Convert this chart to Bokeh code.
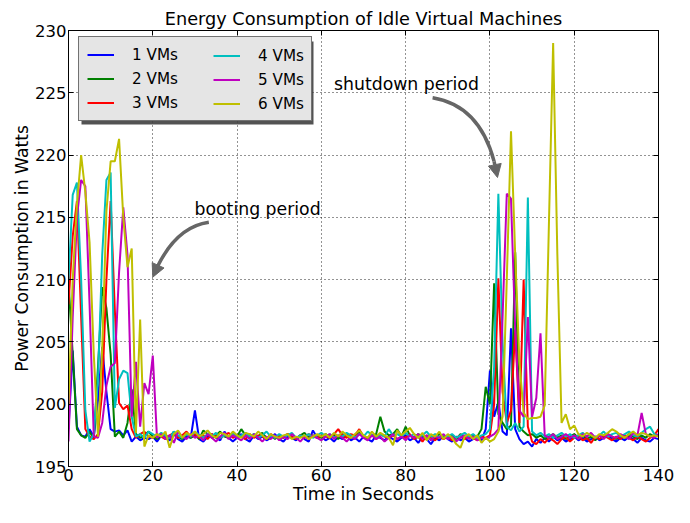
from bokeh.plotting import figure
from bokeh.models import (Range1d, FixedTicker, LinearAxis, Legend, LegendItem,
                          Arrow, NormalHead, Label, BoxAnnotation)
from bokeh.embed import file_html
from bokeh.resources import INLINE

# ---------------- data ----------------
time_s = list(range(0, 141))

vm1 = [
    198.0, 204.3, 198.2, 197.5, 197.4, 198.0, 197.4, 200.3, 204.6, 201.0,
    198.0, 197.8, 197.9, 197.5, 197.9, 197.0, 197.4, 197.1, 197.3, 197.2,
    197.4, 197.0, 197.5, 197.3, 197.1, 197.6, 197.2, 197.0, 197.4, 197.3,
    199.5, 197.2, 197.0, 197.4, 197.6, 197.3, 197.1, 197.8, 197.3, 197.0,
    197.3, 197.6, 197.2, 197.0, 197.5, 197.2, 197.4, 197.1, 197.3, 197.6,
    197.2, 197.0, 197.4, 197.3, 197.1, 197.5, 197.2, 197.0, 197.9, 197.3,
    197.4, 197.1, 197.3, 197.0, 197.4, 197.2, 197.6, 197.1, 197.3, 197.0,
    197.4, 197.2, 197.0, 197.5, 197.3, 197.1, 197.4, 197.2, 197.0, 197.3,
    197.5, 197.1, 197.3, 196.9, 197.4, 197.2, 196.8, 197.3, 197.1, 197.5,
    197.2, 197.0, 197.4, 197.1, 197.3, 197.0, 197.2, 197.4, 197.1, 198.0,
    202.7, 199.0, 200.2, 197.8, 197.5, 206.1, 198.0, 197.2, 196.8, 197.0,
    196.6, 197.2, 196.9, 197.3, 197.0, 197.4, 197.1, 197.3, 197.0, 197.2,
    197.4, 197.1, 197.3, 197.0, 197.2, 197.4, 197.1, 197.3, 197.5, 197.2,
    197.0, 197.3, 197.1, 197.4, 197.2, 196.9, 197.3, 197.1, 197.0, 197.3,
    197.2]

vm2 = [
    209.8, 204.0, 198.0, 197.5, 197.3, 197.8, 197.2, 203.0, 209.4, 207.7,
    204.0, 197.4, 197.8, 197.3, 198.5, 201.2, 197.6, 197.3, 197.5, 197.8,
    197.4, 197.2, 197.6, 197.5, 197.3, 197.8, 197.4, 197.2, 197.6, 197.3,
    197.5, 197.2, 197.9, 197.6, 197.3, 197.5, 197.8, 197.4, 197.3, 197.6,
    197.4, 198.0, 197.5, 197.3, 197.6, 197.4, 197.7, 197.3, 197.5, 197.2,
    197.5, 197.3, 197.6, 197.4, 197.2, 197.5, 197.7, 197.3, 197.5, 197.4,
    197.3, 197.6, 197.4, 197.5, 197.2, 197.6, 197.4, 197.3, 197.5, 197.7,
    197.4, 197.2, 197.5, 197.6, 199.0, 197.8, 197.5, 197.6, 198.0, 197.4,
    198.2, 197.5, 197.3, 197.6, 197.4, 197.2, 197.5, 197.3, 197.6, 197.4,
    197.3, 197.5, 197.2, 197.6, 197.4, 197.3, 197.5, 197.4, 198.0, 201.4,
    200.0, 209.7, 199.2, 198.5, 198.0, 198.3, 212.2, 198.2, 197.8, 197.5,
    197.6, 197.3, 197.5, 197.2, 197.4, 197.6, 197.3, 197.5, 197.2, 197.4,
    197.6, 197.3, 197.5, 197.2, 197.4, 197.1, 197.5, 197.3, 197.6, 197.4,
    197.2, 197.5, 197.3, 197.6, 197.4, 197.2, 197.5, 197.3, 197.6, 197.4,
    197.5]

vm3 = [
    208.0, 213.5, 216.3, 207.0, 198.0, 197.4, 197.2, 197.6, 201.0, 210.0,
    216.3, 207.5, 200.1, 199.6, 199.9, 198.0, 197.3, 197.6, 197.8, 197.4,
    197.3, 197.6, 197.4, 197.2, 197.5, 197.7, 197.3, 197.5, 197.8, 197.4,
    197.6, 197.3, 197.5, 197.2, 197.6, 197.4, 197.3, 197.5, 197.7, 197.3,
    197.5, 197.4, 197.2, 197.6, 197.3, 197.5, 197.4, 197.2, 197.6, 197.3,
    197.5, 197.3, 197.6, 197.4, 197.2, 197.5, 197.3, 197.6, 197.4, 197.3,
    197.5, 197.4, 197.3, 197.6, 198.0, 197.5, 197.3, 197.6, 197.5, 198.0,
    197.4, 197.3, 197.5, 197.2, 197.6, 197.4, 197.3, 197.5, 197.2, 197.4,
    197.3, 197.6, 197.2, 197.4, 197.0, 197.5, 197.3, 197.1, 197.4, 197.2,
    197.4, 197.1, 197.3, 197.5, 197.2, 197.4, 197.3, 197.1, 197.4, 197.3,
    197.5, 200.0, 210.1, 201.0, 198.5, 199.5, 206.0, 198.5, 210.0, 198.2,
    197.0, 196.8, 197.2, 196.9, 197.3, 197.1, 196.8, 197.2, 197.4, 197.0,
    197.3, 197.5, 197.1, 197.3, 196.9, 197.4, 197.2, 197.5, 197.3, 197.1,
    197.4, 197.2, 197.5, 197.3, 197.1, 197.4, 197.2, 197.0, 197.3, 197.5,
    198.0]

vm4 = [
    210.0, 216.8, 217.8, 210.0, 199.5, 197.0, 197.6, 202.0, 212.0, 218.0,
    218.6, 199.7, 202.0, 202.7, 202.5, 199.0, 197.4, 197.6, 197.3, 197.8,
    197.6, 197.4, 197.7, 197.5, 197.3, 197.8, 197.5, 197.3, 197.6, 197.4,
    197.8, 197.5, 197.3, 197.6, 197.4, 197.7, 197.3, 197.5, 197.4, 197.6,
    197.3, 197.5, 197.7, 197.4, 197.6, 197.3, 197.5, 197.8, 197.4, 197.3,
    197.6, 197.4, 197.5, 197.7, 197.3, 197.5, 197.4, 197.6, 197.3, 197.5,
    197.7, 197.4, 197.6, 197.3, 197.5, 197.4, 197.7, 197.5, 197.3, 197.6,
    197.4, 197.8, 197.5, 197.3, 197.6, 197.4, 198.0, 197.5, 197.6, 197.4,
    197.7, 197.4, 197.6, 197.3, 197.5, 197.8, 197.4, 197.6, 197.3, 197.5,
    197.4, 197.6, 197.3, 197.5, 197.7, 197.4, 197.6, 197.3, 197.5, 197.6,
    198.0, 203.0, 216.9, 205.0, 198.2, 197.9, 198.5, 197.8, 198.2, 216.6,
    197.8, 197.5, 197.7, 197.4, 197.6, 197.3, 197.5, 197.7, 197.4, 197.6,
    197.3, 197.5, 197.7, 197.4, 197.6, 197.3, 197.5, 197.8, 197.4, 197.6,
    197.7, 197.4, 197.6, 197.8, 197.5, 197.4, 197.7, 198.0, 198.2, 197.6,
    197.5]

vm5 = [
    197.0, 207.0, 215.0, 218.0, 217.5, 208.0, 197.4, 197.3, 198.5, 201.5,
    203.0, 203.3, 210.6, 215.8, 212.0, 199.0, 203.4, 198.2, 201.7, 200.8,
    203.9, 197.3, 197.6, 197.2, 197.5, 196.9, 197.8, 197.4, 197.2, 197.6,
    197.3, 197.5, 197.1, 197.6, 197.3, 197.0, 197.4, 197.7, 197.2, 197.5,
    197.3, 197.1, 197.5, 197.2, 197.6, 197.3, 197.0, 197.4, 197.2, 197.5,
    197.1, 197.4, 197.2, 197.6, 197.3, 197.0, 197.4, 197.2, 197.5, 197.3,
    197.1, 197.4, 197.6, 197.2, 197.5, 197.3, 197.0, 197.4, 197.2, 197.6,
    197.3, 197.1, 197.5, 197.2, 197.4, 197.0, 197.3, 197.6, 197.2, 197.4,
    197.1, 197.5, 197.3, 197.6, 197.2, 197.5, 197.1, 197.4, 197.3, 197.6,
    197.2, 197.4, 197.0, 197.3, 197.5, 197.2, 197.4, 197.1, 197.3, 197.2,
    197.4, 197.6, 198.0, 207.0, 216.9, 216.5, 206.0, 199.5, 199.0, 207.0,
    199.0, 200.5, 205.7, 197.5, 197.3, 197.6, 197.2, 197.4, 197.6, 197.3,
    197.5, 197.2, 197.6, 197.4, 197.7, 197.3, 197.5, 197.2, 197.6, 197.4,
    197.3, 197.6, 197.4, 197.2, 197.7, 197.5, 199.3, 197.6, 197.4, 197.3,
    197.6]

vm6 = [
    200.0, 210.0, 216.0, 220.0, 217.0, 213.0, 204.0, 197.4, 204.5, 215.5,
    219.5, 219.5, 221.3, 215.0, 211.0, 212.5, 197.7, 206.8, 196.6, 197.5,
    197.3, 197.6, 197.4, 197.8, 196.5, 197.6, 197.9, 197.3, 197.7, 197.5,
    197.8, 197.4, 197.6, 197.9, 197.5, 197.3, 197.7, 197.6, 197.4, 197.8,
    197.5, 197.3, 197.7, 197.6, 197.4, 197.8, 197.5, 197.2, 197.6, 197.4,
    197.3, 197.5, 197.6, 197.2, 197.4, 197.3, 197.5, 197.2, 197.4, 197.6,
    197.4, 197.6, 197.3, 197.7, 197.4, 197.8, 197.5, 197.3, 197.6, 197.9,
    197.5, 197.3, 197.8, 197.4, 197.7, 197.5, 197.3, 196.7, 197.9, 197.5,
    197.8, 198.1, 197.6, 197.3, 197.7, 197.1, 197.6, 197.4, 197.8, 197.2,
    197.6, 197.3, 196.8, 196.5, 197.4, 197.6, 197.2, 197.5, 196.9, 197.3,
    197.0, 197.2, 197.8, 199.0, 210.0, 221.9, 212.0, 203.4, 199.3, 198.8,
    198.9, 198.9, 199.0, 199.9, 214.5, 229.0, 212.0, 198.5, 199.2, 198.0,
    198.3, 197.6, 197.4, 197.7, 197.5, 197.3, 197.6, 197.5, 197.7, 198.0,
    197.8, 197.5, 197.3, 197.6, 197.8, 197.5, 197.7, 197.6, 197.4, 197.5,
    197.4]

series = [vm1, vm2, vm3, vm4, vm5, vm6]
labels = ["1 VMs", "2 VMs", "3 VMs", "4 VMs", "5 VMs", "6 VMs"]
colors = ["#0000ff", "#008000", "#ff0000", "#00bfbf", "#bf00bf", "#bfbf00"]

x_ticks = [0, 20, 40, 60, 80, 100, 120, 140]
y_ticks = [195, 200, 205, 210, 215, 220, 225, 230]

title_text = "Energy Consumption of Idle Virtual Machines"
x_label = "Time in Seconds"
y_label = "Power Consumption in Watts"

# annotations: text (x, y) and arrow (tail, control, tip) in data units
boot_text = ("booting period", 29.9, 215.7)
boot_arrow = ((33.3, 214.6), (24.8, 214.2), (20.0, 210.2))
shut_text = ("shutdown period", 63.0, 225.7)
shut_arrow = ((86.4, 224.6), (99.0, 223.9), (101.8, 218.2))

# ---------------- figure ----------------
FONT = "DejaVu Sans"
W, H = 674, 507
BT, BB, BL, BR = 30, 41, 68, 16
FH = H - BT - BB

p = figure(width=W, height=H, output_backend="svg", toolbar_location=None,
           x_range=Range1d(0, 140), y_range=Range1d(195, 230),
           min_border_left=BL, min_border_right=BR,
           min_border_top=BT, min_border_bottom=BB)
p.background_fill_color = "white"
p.border_fill_color = "white"
p.outline_line_color = "black"
p.outline_line_width = 1

p.title.text = title_text
p.title.align = "center"
p.title.text_font = FONT
p.title.text_font_size = "17.7px"
p.title.text_font_style = "normal"
p.title.text_color = "black"
p.title.standoff = 4

def style_axis(ax, show_labels=True):
    ax.major_tick_in = 5
    ax.major_tick_out = 0
    ax.minor_tick_line_color = None
    ax.axis_line_color = "black"
    ax.major_tick_line_color = "black"
    ax.major_label_text_font = FONT
    if show_labels:
        ax.major_label_text_color = "black"
        ax.major_label_text_font_size = "16.5px"
        ax.major_label_standoff = 2
    else:
        ax.major_label_text_color = None
        ax.major_label_text_font_size = "1px"
        ax.major_label_standoff = 0

xt = FixedTicker(ticks=x_ticks)
yt = FixedTicker(ticks=y_ticks)
p.xaxis.ticker = xt
p.yaxis.ticker = yt
p.xgrid.ticker = xt
p.ygrid.ticker = yt
for ax in p.xaxis + p.yaxis:
    style_axis(ax)
p.xaxis.axis_label = x_label
p.yaxis.axis_label = y_label
for ax in p.xaxis + p.yaxis:
    ax.axis_label_text_font = FONT
    ax.axis_label_text_font_size = "17.2px"
    ax.axis_label_text_font_style = "normal"
    ax.axis_label_text_color = "black"
    ax.axis_label_standoff = 0

top_ax = LinearAxis(ticker=FixedTicker(ticks=x_ticks))
style_axis(top_ax, show_labels=False)
p.add_layout(top_ax, "above")
right_ax = LinearAxis(ticker=FixedTicker(ticks=y_ticks))
style_axis(right_ax, show_labels=False)
p.add_layout(right_ax, "right")

for g in (p.xgrid[0], p.ygrid[0]):
    g.grid_line_color = "black"
    g.grid_line_dash = "1 3"
    g.grid_line_width = 1
    g.grid_line_alpha = 0.85

renderers = []
for s, c in zip(series, colors):
    r = p.line(time_s, s, line_color=c, line_width=2)
    renderers.append(r)

# ---------------- annotations ----------------
ARROW_C = "#666666"
for (txt, tx, ty), (P0, C, P2) in ((boot_text, boot_arrow), (shut_text, shut_arrow)):
    p.add_layout(Label(x=tx, y=ty, text=txt, text_font=FONT, text_font_size="17.3px",
                       text_baseline="middle", text_align="left", text_color="black"))
    t = 0.88
    c1 = ((1 - t) * P0[0] + t * C[0], (1 - t) * P0[1] + t * C[1])
    bt = ((1 - t) ** 2 * P0[0] + 2 * (1 - t) * t * C[0] + t * t * P2[0],
          (1 - t) ** 2 * P0[1] + 2 * (1 - t) * t * C[1] + t * t * P2[1])
    p.quadratic(x0=[P0[0]], y0=[P0[1]], x1=[bt[0]], y1=[bt[1]], cx=[c1[0]], cy=[c1[1]],
                line_color=ARROW_C, line_width=3.5)
    p.add_layout(Arrow(end=NormalHead(size=13, fill_color=ARROW_C, line_color=ARROW_C),
                       x_start=bt[0], y_start=bt[1], x_end=P2[0], y_end=P2[1],
                       line_color=ARROW_C, line_width=3.5))

# ---------------- legend ----------------
LEG_W, LEG_H = 232, 83
leg_x, leg_y = 10, FH - 8 - LEG_H
shadow = BoxAnnotation(left=leg_x + 3, right=leg_x + 3 + LEG_W,
                       bottom=leg_y - 3, top=leg_y - 3 + LEG_H,
                       left_units="screen", right_units="screen",
                       bottom_units="screen", top_units="screen",
                       fill_color="#404040", fill_alpha=0.9, line_color=None)
p.add_layout(shadow)

def make_legend(idx, loc, lw, boxed):
    leg = Legend(items=[LegendItem(label=labels[i], renderers=[renderers[i]]) for i in idx],
                 location=loc, orientation="vertical",
                 padding=8, spacing=5, margin=0,
                 glyph_width=27, glyph_height=19, label_height=19,
                 label_width=lw, label_standoff=18,
                 label_text_font=FONT, label_text_font_size="15.2px",
                 label_text_color="black")
    if boxed:
        leg.background_fill_color = "#e5e5e5"
        leg.background_fill_alpha = 1.0
        leg.border_line_color = "black"
        leg.border_line_width = 1
    else:
        leg.background_fill_alpha = 0.0
        leg.border_line_color = None
    return leg

p.add_layout(make_legend([0, 1, 2], (leg_x, leg_y), LEG_W - 16 - 27 - 18, True), "center")
p.add_layout(make_legend([3, 4, 5], (leg_x + 135, leg_y + 8), 60, False), "center")

open("out.html", "w").write(file_html(p, INLINE))
